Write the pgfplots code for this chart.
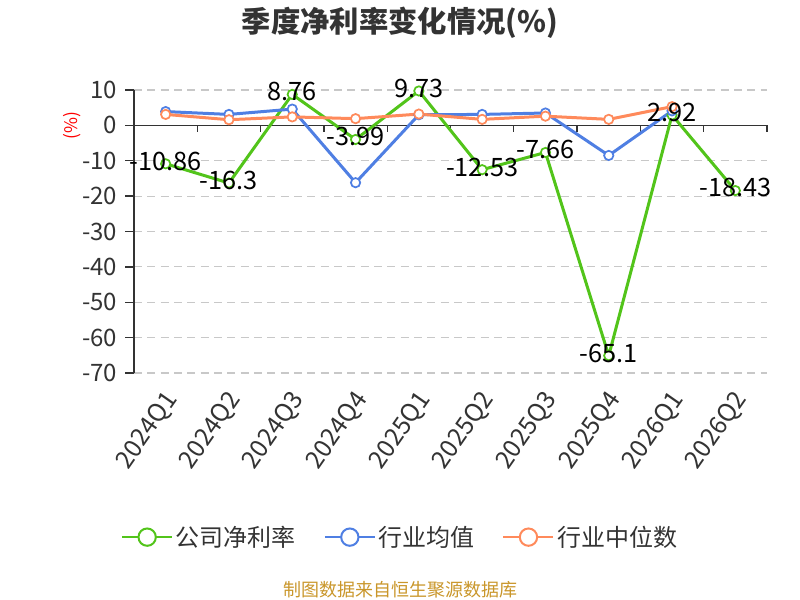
\documentclass[border=0pt]{standalone}
\usepackage{pgfplots}
\pgfplotsset{compat=1.18}
\usepackage{fontspec}
\setmainfont{Noto Sans CJK SC}
\definecolor{cgreen}{HTML}{52C41A}
\definecolor{cblue}{HTML}{4F7FE3}
\definecolor{corange}{HTML}{FF8A5B}
\definecolor{axgray}{HTML}{333333}
\definecolor{gridgray}{HTML}{C8C8C8}
\definecolor{footc}{HTML}{C9962A}
\definecolor{titlec}{HTML}{333333}
\begin{document}
\begin{tikzpicture}
\useasboundingbox (0,0) rectangle (600pt,450pt);
\begin{axis}[
  at={(100.5pt,170.25pt)}, anchor=south west,
  width=474.75pt, height=212.25pt, scale only axis,
  xmin=-0.5, xmax=9.5, ymin=-70, ymax=10,
  separate axis lines,
  axis y line*=left, axis x line*=bottom,
  x axis line style={draw=none},
  y axis line style={-, draw=axgray, line width=1pt},
  xtick={0,1,2,3,4,5,6,7,8,9},
  xticklabels={2024Q1,2024Q2,2024Q3,2024Q4,2025Q1,2025Q2,2025Q3,2025Q4,2026Q1,2026Q2},
  xtick style={draw=none},
  ytick={-70,-60,-50,-40,-30,-20,-10,0,10},
  yticklabels={-70,-60,-50,-40,-30,-20,-10,0,10},
  ytick style={draw=axgray, line width=1pt},
  tick align=outside, major tick length=6.5pt,
  ymajorgrids, grid style={gridgray, line width=0.9pt, dash pattern=on 6pt off 4pt},
  yticklabel style={font=\fontsize{18}{20}\selectfont, text=axgray, xshift=-2.5pt},
  xticklabel style={font=\fontsize{18.5}{20}\selectfont, text=axgray, rotate=55, anchor=east, xshift=-2pt, yshift=-10pt},
  clip=false,
  legend columns=3,
  legend style={draw=none, fill=none, at={(0.421,-0.58)}, anchor=center,
    font=\fontsize{18}{20}\selectfont, text=axgray,
    /tikz/every even column/.append style={column sep=19pt}},
  legend image code/.code={
    \draw[#1, line width=1.5pt] (0pt,0pt) -- (37.5pt,0pt);
    \draw[#1, line width=1.5pt, fill=white] (18.75pt,0pt) circle (6.5pt);
  },
]
\draw[axgray, line width=1pt] (axis cs:-0.5,0) -- (axis cs:9.5,0);
\pgfplotsinvokeforeach{0.5,1.5,2.5,3.5,4.5,5.5,6.5,7.5,8.5,9.5}{
  \draw[axgray, line width=1pt] (axis cs:#1,0) -- ([yshift=-5pt]axis cs:#1,0);
}
\addplot[cgreen, line width=2.25pt, mark=*, mark size=3.5pt,
  mark options={fill=white, draw=cgreen, line width=1.3pt}]
  coordinates {(0,-10.86) (1,-16.3) (2,8.76) (3,-3.99) (4,9.73) (5,-12.53) (6,-7.66) (7,-65.1) (8,2.92) (9,-18.43)};
\addlegendentry{公司净利率}
\addplot[cblue, line width=2.25pt, mark=*, mark size=3.5pt,
  mark options={fill=white, draw=cblue, line width=1.3pt}]
  coordinates {(0,3.9) (1,3.1) (2,4.6) (3,-16.2) (4,3.0) (5,3.1) (6,3.5) (7,-8.5) (8,4.1)};
\addlegendentry{行业均值}
\addplot[corange, line width=2.25pt, mark=*, mark size=3.5pt,
  mark options={fill=white, draw=corange, line width=1.3pt}]
  coordinates {(0,3.1) (1,1.6) (2,2.4) (3,1.9) (4,3.2) (5,1.7) (6,2.6) (7,1.7) (8,5.3)};
\addlegendentry{行业中位数}
\addplot[draw=none, mark=none, forget plot, nodes near coords, point meta=explicit symbolic,
  nodes near coords style={anchor=center, font=\fontsize{19}{21}\selectfont, text=black, inner sep=0pt, yshift=2pt}]
  coordinates {(0,-10.86)[-10.86] (1,-16.3)[-16.3] (2,8.76)[8.76] (3,-3.99)[-3.99] (4,9.73)[9.73] (5,-12.53)[-12.53] (6,-7.66)[-7.66] (7,-65.1)[-65.1] (8,2.92)[2.92] (9,-18.43)[-18.43]};
\end{axis}
\node[font=\bfseries\fontsize{22}{25}\selectfont, text=titlec] at (300pt,433pt) {季度净利率变化情况(\%)};
\node[font=\fontsize{13}{14}\selectfont, text=red, rotate=90] at (54pt,356pt) {(\%)};
\node[font=\fontsize{13.5}{15}\selectfont, text=footc] at (300pt,8pt) {制图数据来自恒生聚源数据库};
\end{tikzpicture}
\end{document}
